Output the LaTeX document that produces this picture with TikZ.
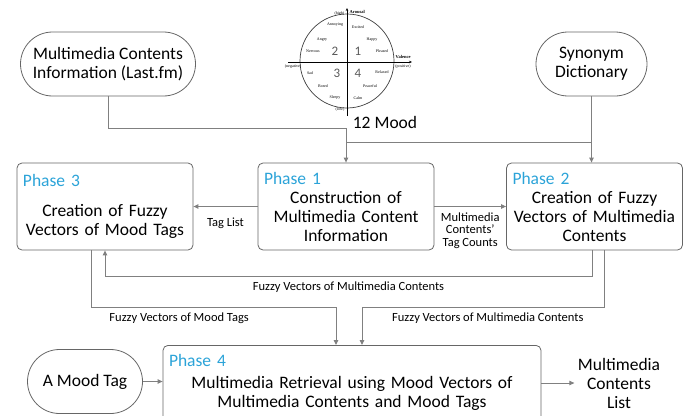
\documentclass[tikz,border=0pt]{standalone}
\usepackage{fontspec}
\setmainfont{Carlito}
\newfontfamily\moodfont{Liberation Serif}
\usetikzlibrary{arrows.meta, shapes.misc}
\definecolor{phaseblue}{HTML}{2BA3D8}
\definecolor{boxgray}{HTML}{666666}
\definecolor{linegray}{HTML}{808080}
\newcommand{\phasetitle}[1]{\hbox to \hsize{\color{phaseblue}Phase #1\hfil}}

\begin{document}
\begin{tikzpicture}[x=1pt, y=-1pt, font=\fontsize{17.5}{19}\selectfont,
  source/.style={draw=boxgray, line width=0.8pt, rounded rectangle, minimum height=64pt, align=center, inner xsep=4pt},
  phasebox/.style={draw=boxgray, line width=0.8pt, rounded corners=5pt, minimum height=87pt, text width=164pt, inner xsep=6pt, align=center},
  note/.style={font=\fontsize{12.5}{12.5}\selectfont, align=center},
  flow/.style={->, >={Triangle[length=5pt, width=4.5pt]}, draw=linegray, line width=1pt},
  mood/.style={font=\moodfont\fontsize{4}{4}\selectfont, inner sep=0.5pt},
  quadrant/.style={font=\fontsize{13}{13}\selectfont, text=black!65},
]
\clip (0,0) rectangle (685,415);

% sources
\node[source, minimum width=183pt] (lastfm) at (108,64) {Multimedia Contents\\Information (Last.fm)};
\node[source, minimum width=119pt] (synonym) at (591.5,64) {Synonym\\Dictionary};

% 12 mood model
\draw[line width=0.7pt, black!75] (347,61) circle (47pt);
\draw[-{Stealth[length=3pt, width=2.5pt]}, line width=0.8pt] (288,62) -- (412,62);
\draw[-{Stealth[length=3pt, width=2.5pt]}, line width=0.8pt] (347,116) -- (347,8);
\node[mood, anchor=east] (high) at (345,14) {(high)};
\node[mood, anchor=west, font=\moodfont\bfseries\fontsize{4.5}{4.5}\selectfont] (arousal) at (349,12) {Arousal};
\node[mood] (annoying) at (335,25) {Annoying};
\node[mood] (excited) at (358,27) {Excited};
\node[mood] (angry) at (322,40) {Angry};
\node[mood] (happy) at (372,40) {Happy};
\node[mood] (nervous) at (313,51) {Nervous};
\node[mood] (pleased) at (382,51) {Pleased};
\node[mood, anchor=west, font=\moodfont\bfseries\fontsize{4.5}{4.5}\selectfont] (valence) at (395,57) {Valence};
\node[mood] (negative) at (293,67) {(negative)};
\node[mood] (positive) at (403,67) {(positive)};
\node[mood] (sad) at (310,73) {Sad};
\node[mood] (relaxed) at (382,72) {Relaxed};
\node[mood] (bored) at (323,86) {Bored};
\node[mood] (peaceful) at (370,86) {Peaceful};
\node[mood] (sleepy) at (335,98) {Sleepy};
\node[mood] (calm) at (358,98) {Calm};
\node[mood] (low) at (340,110) {(low)};
\node[quadrant] (q2) at (335,51) {2};
\node[quadrant] (q1) at (358,51) {1};
\node[quadrant] (q3) at (337,73) {3};
\node[quadrant] (q4) at (358,73) {4};
\node (moodname) at (385,122) {12 Mood};

% phases
\node[phasebox] (phase3) at (105,206.5) {\phasetitle{3}\\[11pt]Creation of Fuzzy\\Vectors of Mood Tags};
\node[phasebox] (phase1) at (346,206.5) {\phasetitle{1}\\Construction of\\Multimedia Content\\Information};
\node[phasebox] (phase2) at (594.5,206.5) {\phasetitle{2}\\Creation of Fuzzy\\Vectors of Multimedia\\Contents};
\node[phasebox, text width=366pt, minimum height=0pt, inner ysep=9pt, anchor=north, text depth=60pt] (phase4) at (352,345) {\phasetitle{4}\\[3pt]Multimedia Retrieval using Mood Vectors of\\Multimedia Contents and Mood Tags};
\node[source, minimum width=123pt] (moodtag) at (85,381.5) {A Mood Tag};
\node[align=center] (result) at (619,383) {Multimedia\\Contents\\List};

% connectors
\draw[flow] (lastfm.south) |- (phase1.north |- 0,128) -- (phase1.north);
\draw[flow] (synonym.south) -- (synonym.south |- phase2.north);
\draw[draw=linegray, line width=1pt] (synonym.south |- 0,142) -- (phase1.north |- 0,142);
\draw[flow] (phase1.west) -- node[note, below=8pt] {Tag List} (phase3.east);
\draw[flow] (phase1.east) -- node[note, below=2pt] {Multimedia\\Contents'\\Tag Counts} (phase2.east -| phase2.west);
\draw[flow] ([xshift=-2.5pt]phase2.south) -- ++(0,26) -| node[note, pos=0.25, below=2pt] {Fuzzy Vectors of Multimedia Contents} (phase3.south);
\draw[flow] ([xshift=-14pt]phase3.south) -- ++(0,57) -| node[note, pos=0.18, below=2pt] {Fuzzy Vectors of Mood Tags} ([xshift=-16pt]phase4.north);
\draw[flow] ([xshift=9.5pt]phase2.south) -- ++(0,57) -| node[note, pos=0.24, below=2pt] {Fuzzy Vectors of Multimedia Contents} ([xshift=10pt]phase4.north);
\draw[flow] (moodtag.east) -- (moodtag.east -| phase4.west);
\draw[flow] (result.west -| phase4.east) -- (result.west);
\end{tikzpicture}
\end{document}
